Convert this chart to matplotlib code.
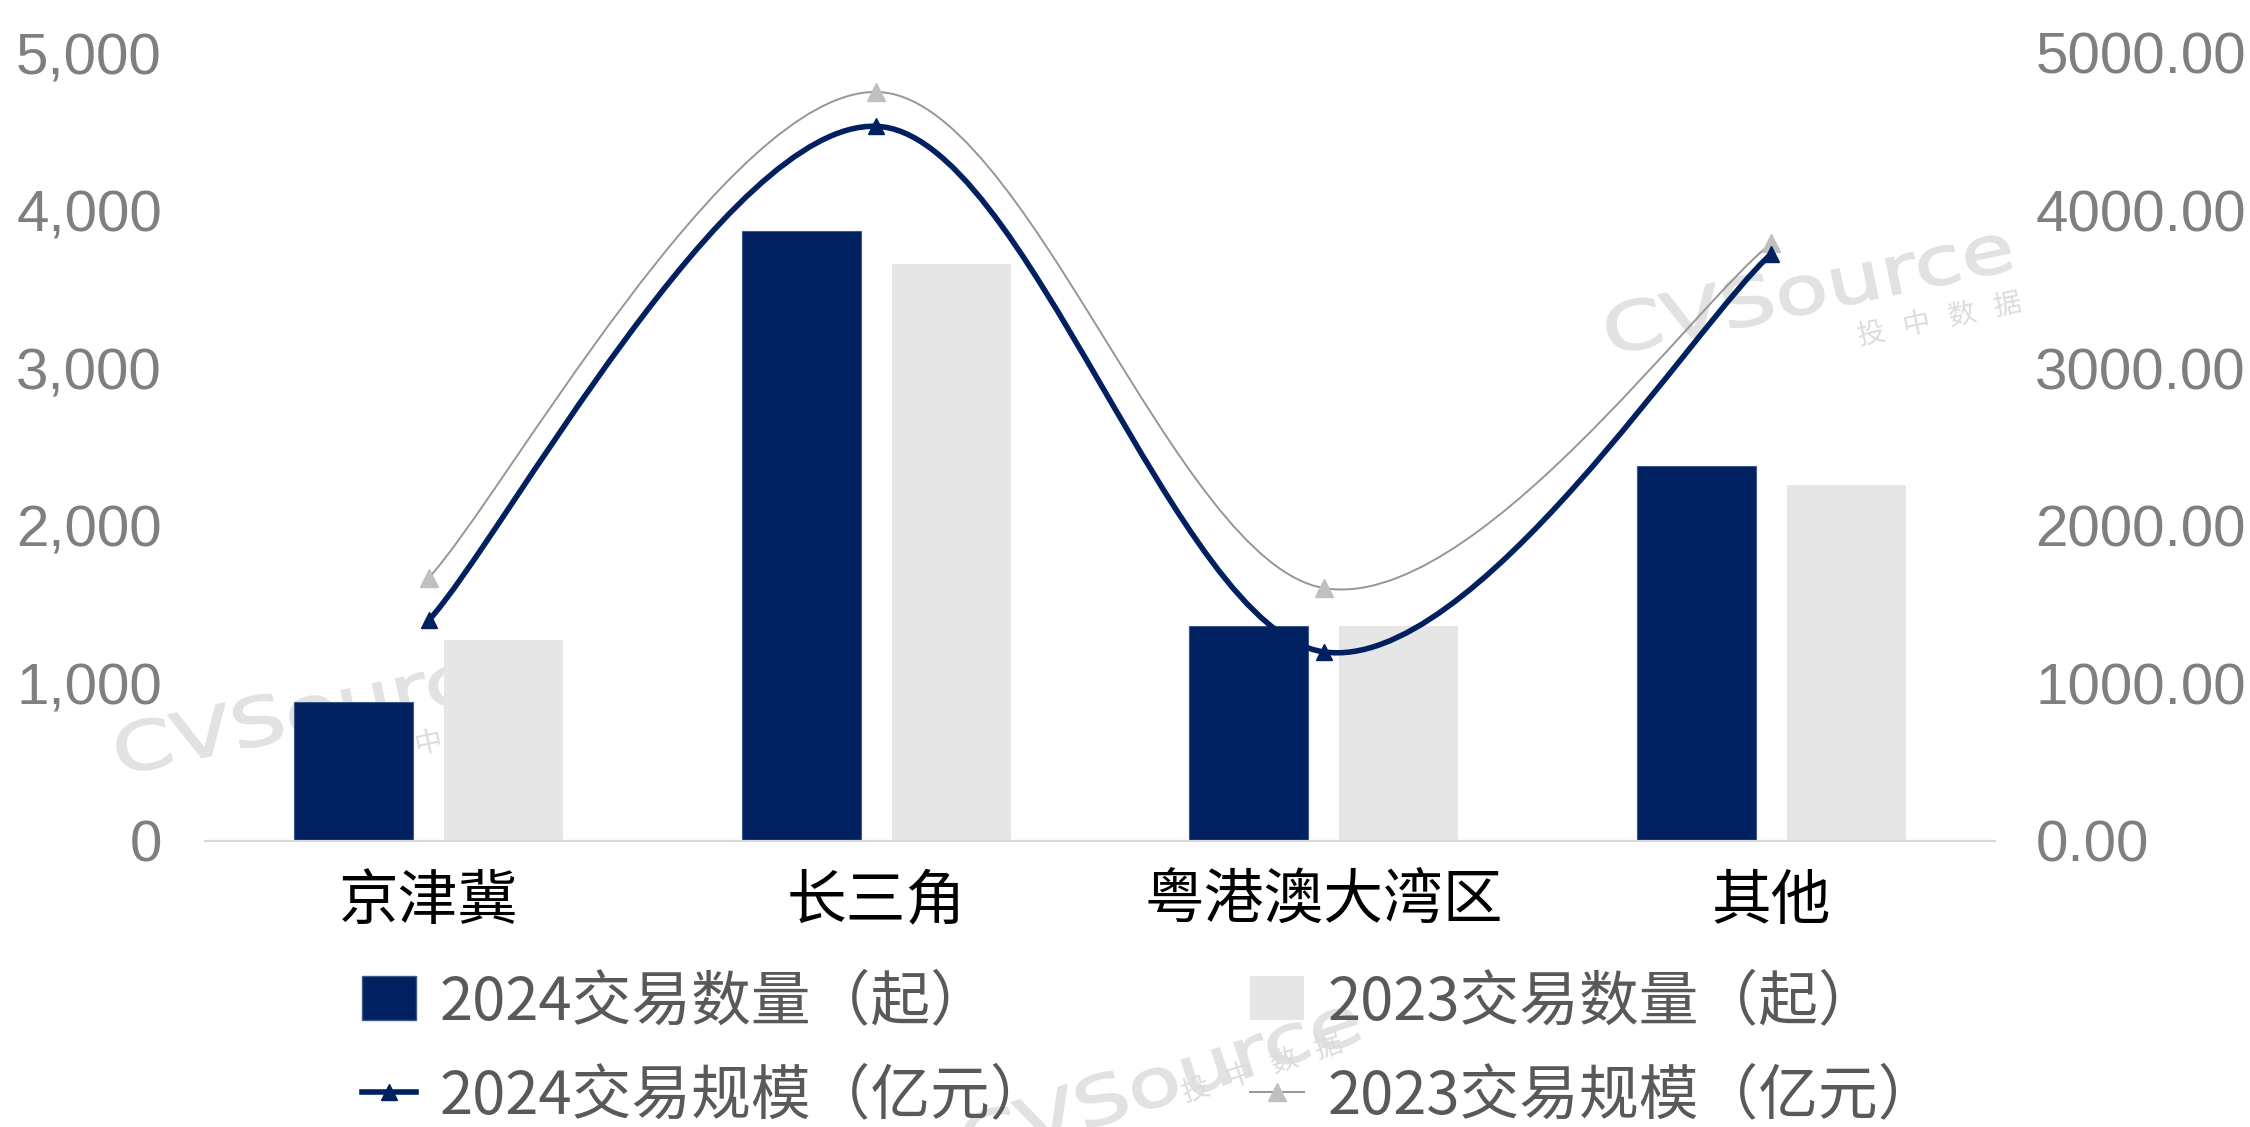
import matplotlib
matplotlib.use("Agg")
import matplotlib.pyplot as plt
from matplotlib.path import Path
from matplotlib.patches import PathPatch, Patch
from matplotlib.lines import Line2D
from matplotlib.textpath import TextPath
from matplotlib.font_manager import FontProperties
from matplotlib.transforms import Affine2D, IdentityTransform

# data
regions = ["京津冀", "长三角", "粤港澳大湾区", "其他"]
count_2024 = [880, 3870, 1366, 2377]
count_2023 = [1275, 3660, 1366, 2260]
scale_2024 = [1400, 4535, 1200, 3725]
scale_2023 = [1670, 4753, 1605, 3792]
left_ticks = [0, 1000, 2000, 3000, 4000, 5000]
left_labels = ["0", "1,000", "2,000", "3,000", "4,000", "5,000"]
right_labels = ["0.00", "1000.00", "2000.00", "3000.00", "4000.00", "5000.00"]
legend_labels = ["2024交易数量（起）", "2024交易规模（亿元）",
                 "2023交易数量（起）", "2023交易规模（亿元）"]

NAVY = "#002060"
LIGHT = "#E6E6E6"
GREY_LINE = "#969696"
GREY_MARK = "#C0C0C0"
TICK_GREY = "#7F7F7F"

W, H = 2250, 1127
fig = plt.figure(figsize=(W / 100, H / 100), dpi=100)
ax = fig.add_axes([205 / W, 286 / H, 1790 / W, 788 / H])
ax2 = ax.twinx()
for a in (ax, ax2):
    a.patch.set_visible(False)
    for s in a.spines.values():
        s.set_visible(False)
ax.spines["bottom"].set_visible(True)
ax.spines["bottom"].set_color("#D9D9D9")
ax.spines["bottom"].set_linewidth(1.6)


def smooth_path(xs, ys):
    # excel-like smoothed line through the points (cubic bezier segments)
    pts = list(zip(xs, ys))
    n = len(pts)
    verts = [pts[0]]
    codes = [Path.MOVETO]
    for i in range(n - 1):
        p0 = pts[i - 1] if i > 0 else pts[i]
        p1, p2 = pts[i], pts[i + 1]
        p3 = pts[i + 2] if i + 2 < n else pts[i + 1]
        c1 = (p1[0] + (p2[0] - p0[0]) / 6, p1[1] + (p2[1] - p0[1]) / 6)
        c2 = (p2[0] - (p3[0] - p1[0]) / 6, p2[1] - (p3[1] - p1[1]) / 6)
        verts += [c1, c2, p2]
        codes += [Path.CURVE4] * 3
    return Path(verts, codes)


x = list(range(len(regions)))
bw = 0.266
ax.bar([i - 0.168 for i in x], count_2024, width=bw, color=NAVY,
       edgecolor="#3b5a8a", linewidth=0.8)
ax.bar([i + 0.168 for i in x], count_2023, width=bw, color=LIGHT)

ax2.add_patch(PathPatch(smooth_path(x, scale_2023), fill=False,
                        edgecolor=GREY_LINE, linewidth=1.4))
ax2.plot(x, scale_2023, linestyle="none", marker="^", ms=13, color=GREY_MARK)
ax2.add_patch(PathPatch(smooth_path(x, scale_2024), fill=False,
                        edgecolor=NAVY, linewidth=4.0))
ax2.plot(x, scale_2024, linestyle="none", marker="^", ms=12, color=NAVY)

ax.set_xlim(-0.5, 3.5)
ax.set_ylim(0, 5000)
ax2.set_ylim(0, 5000)

ax.set_yticks(left_ticks)
ax.set_yticklabels(left_labels, fontfamily="Liberation Sans", fontsize=42,
                   color=TICK_GREY)
ax2.set_yticks(left_ticks)
ax2.set_yticklabels(right_labels, fontfamily="Liberation Sans", fontsize=42,
                    color=TICK_GREY)
ax.tick_params(axis="y", length=0, pad=31)
ax2.tick_params(axis="y", length=0, pad=29)
ax.set_xticks(x)
ax.set_xticklabels(regions, fontfamily="Noto Sans CJK SC", fontsize=43,
                   color="black")
ax.tick_params(axis="x", length=0, pad=22)

# legend
handles = [
    Patch(facecolor=NAVY, edgecolor="#3b5a8a"),
    Line2D([], [], color=NAVY, lw=4.0, marker="^", ms=12),
    Patch(facecolor=LIGHT),
    Line2D([], [], color=GREY_LINE, lw=1.4, marker="^", ms=13,
           markerfacecolor=GREY_MARK, markeredgecolor=GREY_MARK),
]
fig.legend(handles, legend_labels, ncol=2, loc="upper left",
           bbox_to_anchor=(362 / W, 1 - 972 / H), frameon=False,
           prop=FontProperties(family=["Noto Sans CJK SC"], size=43),
           labelcolor="#595959", handlelength=0.9, handleheight=0.75,
           handletextpad=0.4, columnspacing=3.35, labelspacing=0.56,
           borderpad=0, borderaxespad=0)


# faint "CVSource" watermarks, drawn behind everything
def watermark(cx, cy, ang, cnx, cny):
    tp = TextPath((0, 0), "CVSource", size=68,
                  prop=FontProperties(family="DejaVu Sans"))
    bb = tp.get_extents()
    tr = (Affine2D().translate(-bb.x0 - bb.width / 2, -bb.y0 - bb.height / 2)
          .scale(1.28, 0.98).rotate_deg(ang).translate(cx, H - cy))
    fig.add_artist(PathPatch(tr.transform_path(tp), facecolor="#E2E2E2",
                             edgecolor="#E2E2E2", linewidth=1.2,
                             transform=IdentityTransform(), zorder=-5))
    fig.text(cnx / W, 1 - cny / H, "投   中   数   据", fontsize=20,
             family="Noto Sans CJK SC", color="#DCDCDC", rotation=ang,
             ha="center", va="center", zorder=-5)


watermark(1808, 288, 12, 1940, 319)
watermark(318, 708, 12, 452, 738)
watermark(1160, 1080, 18, 1262, 1068)

fig.savefig("out.png", dpi=100)
